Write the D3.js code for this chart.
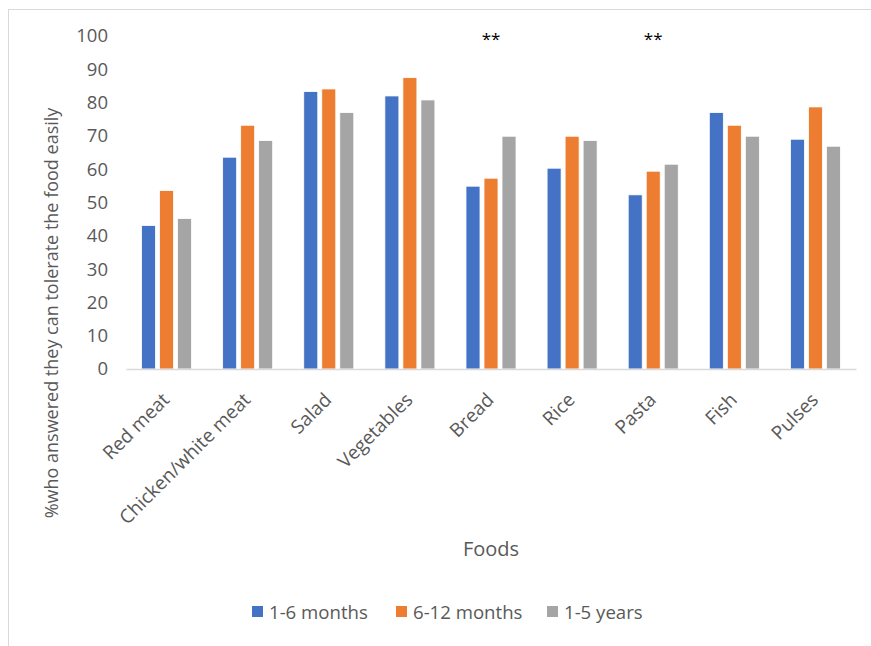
<!DOCTYPE html>
<html>
<head>
<meta charset="utf-8">
<script src="https://cdn.jsdelivr.net/npm/d3@7"></script>
<style>
  html, body { margin: 0; padding: 0; background: #fff; }
  svg { display: block; font-family: "Open Sans", "Noto Sans", sans-serif; }
</style>
</head>
<body>
<svg id="chart" width="871" height="646"></svg>
<script>
// Foods and the share of respondents in each period who tolerate them easily
const foods = ["Red meat", "Chicken/white meat", "Salad", "Vegetables", "Bread", "Rice", "Pasta", "Fish", "Pulses"];
const seriesNames = ["1-6 months", "6-12 months", "1-5 years"];
const months1to6 = [43.1, 63.6, 83.3, 82.0, 54.9, 60.3, 52.3, 77.0, 69.0];
const months6to12 = [53.6, 73.2, 84.1, 87.5, 57.3, 69.9, 59.4, 73.2, 78.7];
const years1to5 = [45.2, 68.6, 77.0, 80.8, 69.9, 68.6, 61.5, 69.9, 66.9];
const yTicks = [0, 10, 20, 30, 40, 50, 60, 70, 80, 90, 100];
const significant = ["Bread", "Pasta"]; // marked with **

const colors = ["#4472C4", "#ED7D31", "#A5A5A5"];
const seriesValues = [months1to6, months6to12, years1to5];
const textColor = "#595959";

const svg = d3.select("#chart");

// chart frame
svg.append("rect")
  .attr("x", 8.5).attr("y", 9.5)
  .attr("width", 900).attr("height", 700)
  .attr("fill", "none").attr("stroke", "#D9D9D9").attr("stroke-width", 1);

const x0 = d3.scaleBand().domain(foods).range([126, 856])
  .paddingInner(0.383).paddingOuter(0.1915);
const x1 = d3.scaleBand().domain(seriesNames).range([0, x0.bandwidth()])
  .paddingInner(0.222).paddingOuter(0);
const y = d3.scaleLinear().domain([0, 100]).range([369, 36]);

// y axis labels (no axis line)
const yAxis = d3.axisLeft(y).tickValues(yTicks).tickSize(0).tickPadding(0);
const yg = svg.append("g").attr("transform", "translate(108,0)").call(yAxis);
yg.select(".domain").remove();
yg.selectAll("text")
  .attr("fill", textColor)
  .style("font-size", "18.5px")
  .style("font-family", "'Open Sans', sans-serif");

// bars
const groups = svg.append("g").selectAll("g")
  .data(foods)
  .join("g")
  .attr("transform", d => `translate(${x0(d)},0)`);

groups.selectAll("rect")
  .data((food, i) => seriesNames.map((s, j) => ({ s, v: seriesValues[j][i], j })))
  .join("rect")
  .attr("x", d => x1(d.s))
  .attr("width", x1.bandwidth())
  .attr("y", d => y(d.v))
  .attr("height", d => y(0) - y(d.v))
  .attr("fill", d => colors[d.j])
  .attr("stroke", "#fff")
  .attr("stroke-width", 0.8);

// x axis baseline and category labels
const xAxis = d3.axisBottom(x0).tickSize(0).tickPadding(0);
const xg = svg.append("g").attr("transform", `translate(0,${y(0)})`).call(xAxis);
xg.select(".domain").attr("stroke", "#D9D9D9").attr("stroke-width", 1.3);
xg.selectAll("text")
  .attr("fill", textColor)
  .style("font-size", "19px")
  .style("font-family", "'Open Sans', sans-serif")
  .attr("text-anchor", "end")
  .attr("dy", null)
  .attr("y", 0)
  .attr("transform", "translate(4,32) rotate(-45)");

// significance markers
svg.append("g").selectAll("text")
  .data(significant)
  .join("text")
  .attr("x", d => x0(d) + x0.bandwidth() / 2)
  .attr("y", 45)
  .attr("text-anchor", "middle")
  .attr("fill", "#000")
  .style("font-size", "17px")
  .text("**");

// axis titles
svg.append("text")
  .attr("transform", "translate(58,313) rotate(-90)")
  .attr("text-anchor", "middle")
  .attr("fill", textColor)
  .style("font-size", "18px")
  .text("%who answered they can tolerate the food easily");

svg.append("text")
  .attr("x", 491).attr("y", 556)
  .attr("text-anchor", "middle")
  .attr("fill", textColor)
  .style("font-size", "20px")
  .text("Foods");

// legend
const legendX = [252, 396, 547];
const legend = svg.append("g").selectAll("g")
  .data(seriesNames)
  .join("g")
  .attr("transform", (d, i) => `translate(${legendX[i]},612)`);
legend.append("rect")
  .attr("x", 0).attr("y", -6).attr("width", 11).attr("height", 11)
  .attr("fill", (d, i) => colors[i]);
legend.append("text")
  .attr("x", 17).attr("y", 6.5)
  .attr("fill", textColor)
  .style("font-size", "18.6px")
  .text(d => d);
</script>
</body>
</html>
